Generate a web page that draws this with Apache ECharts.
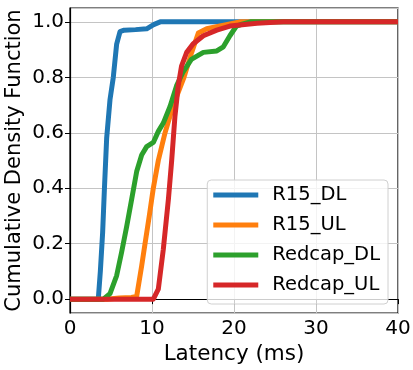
<!DOCTYPE html>
<html>
<head>
<meta charset="utf-8">
<script src="https://cdn.jsdelivr.net/npm/echarts@6/dist/echarts.min.js"></script>
<style>
html,body{margin:0;padding:0;background:#fff;}
#chart{width:413px;height:370px;}
</style>
</head>
<body>
<div id="chart"></div>
<script>
// Series names
const seriesNames = ['R15_DL', 'R15_UL', 'Redcap_DL', 'Redcap_UL'];
const seriesColors = ['#1f77b4', '#ff7f0e', '#2ca02c', '#d62728'];

// R15_DL latency (ms) and CDF
const r15dlX = [0, 3.45, 3.7, 3.98, 4.2, 4.47, 4.88, 5.28, 5.69, 6.1, 6.6, 8.0, 9.35, 10.2, 11.0, 40];
const r15dlY = [0, 0, 0.1, 0.24, 0.4, 0.58, 0.72, 0.8, 0.92, 0.965, 0.97, 0.972, 0.975, 0.99, 1.0, 1.0];

// R15_UL
const r15ulX = [0, 4.5, 6.0, 7.5, 8.13, 8.74, 9.15, 9.67, 10.16, 10.77, 11.59, 12.6, 13.9, 14.84, 15.65, 16.67, 18.3, 20.7, 40];
const r15ulY = [0, 0, 0.004, 0.006, 0.01, 0.12, 0.2, 0.3, 0.4, 0.5, 0.6, 0.7, 0.8, 0.89, 0.96, 0.975, 0.985, 1.0, 1.0];

// Redcap_DL
const rcdlX = [0, 4.07, 4.88, 5.69, 6.3, 6.9, 7.52, 8.13, 8.74, 9.35, 10.16, 10.77, 11.38, 12.2, 13.0, 13.8, 14.8, 16.26, 17.9, 18.7, 19.5, 20.3, 21.0, 22.0, 40];
const rcdlY = [0, 0, 0.02, 0.085, 0.17, 0.26, 0.36, 0.46, 0.52, 0.55, 0.565, 0.605, 0.635, 0.695, 0.77, 0.82, 0.865, 0.89, 0.895, 0.91, 0.95, 0.985, 0.992, 1.0, 1.0];

// Redcap_UL
const rculX = [0, 10.16, 10.77, 11.38, 12.0, 12.4, 12.8, 13.2, 13.6, 14.23, 15.0, 16.26, 17.9, 19.5, 22.8, 26.0, 40];
const rculY = [0, 0, 0.036, 0.18, 0.36, 0.5, 0.66, 0.77, 0.84, 0.89, 0.92, 0.95, 0.97, 0.985, 0.995, 1.0, 1.0];

// Axis ticks
const xTicks = [0, 10, 20, 30, 40];
const yTicks = [0.0, 0.2, 0.4, 0.6, 0.8, 1.0];

const xs = [r15dlX, r15ulX, rcdlX, rculX];
const ys = [r15dlY, r15ulY, rcdlY, rculY];

const FONT = 'DejaVu Sans';

const chart = echarts.init(document.getElementById('chart'), null, {renderer: 'canvas'});
const option = {
  animation: false,
  backgroundColor: '#fff',
  grid: {
    left: 70, right: 15, top: 8, bottom: 57,
    containLabel: false, outerBoundsMode: 'none',
    show: true, borderColor: '#000', borderWidth: 1.2, backgroundColor: 'transparent'
  },
  xAxis: {
    type: 'value',
    min: xTicks[0], max: xTicks[xTicks.length - 1], interval: 10,
    name: 'Latency (ms)', nameLocation: 'middle', nameGap: 30, nameMoveOverlap: false,
    nameTextStyle: {fontFamily: FONT, fontSize: 21.5, color: '#000'},
    axisLine: {show: true, lineStyle: {color: '#000', width: 1.2}},
    axisTick: {show: true, inside: false, length: 5, lineStyle: {color: '#000'}},
    axisLabel: {fontFamily: FONT, fontSize: 20, color: '#000', margin: 6},
    splitLine: {show: true, lineStyle: {color: '#c4c4c4', width: 1}}
  },
  yAxis: {
    type: 'value',
    min: -0.05, max: 1.05, splitNumber: 5,
    name: 'Cumulative Density Function', nameLocation: 'middle', nameGap: 45, nameMoveOverlap: false,
    nameTextStyle: {fontFamily: FONT, fontSize: 21, color: '#000'},
    axisLine: {show: true, lineStyle: {color: '#000', width: 1.2}},
    axisTick: {show: true, inside: false, length: 5, lineStyle: {color: '#000'}},
    axisLabel: {
      fontFamily: FONT, fontSize: 20, color: '#000', margin: 6,
      showMinLabel: false, showMaxLabel: false,
      formatter: function (v) {
        for (const t of yTicks) { if (Math.abs(v - t) < 1e-6) return t.toFixed(1); }
        return '';
      }
    },
    splitLine: {show: true, lineStyle: {color: '#c4c4c4', width: 1}}
  },
  legend: {
    orient: 'vertical',
    right: 25, top: 180,
    padding: [5, 8, 9, 6],
    itemGap: 10,
    itemWidth: 45, itemHeight: 5,
    icon: 'rect',
    backgroundColor: 'rgba(255,255,255,0.8)',
    borderColor: '#d0d0d0', borderWidth: 1, borderRadius: 4,
    textStyle: {fontFamily: FONT, fontSize: 19.5, color: '#000', padding: [0, 0, 0, 9]},
    data: seriesNames
  },
  series: seriesNames.map((name, i) => ({
    name: name,
    type: 'line',
    showSymbol: false,
    symbol: 'none',
    color: seriesColors[i],
    lineStyle: {width: 5, color: seriesColors[i], cap: 'butt', join: 'round'},
    data: xs[i].map((x, j) => [x, ys[i][j]]),
    z: 2 + i
  }))
};
chart.setOption(option);
</script>
</body>
</html>
